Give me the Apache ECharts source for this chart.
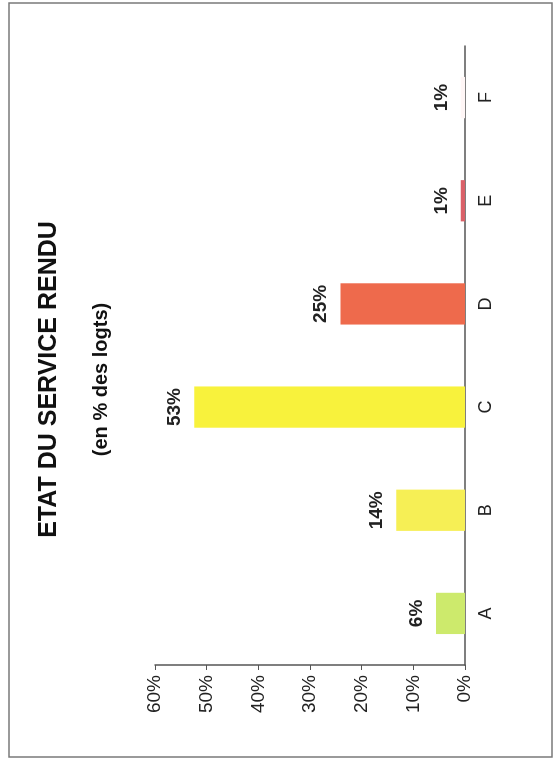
<!DOCTYPE html>
<html>
<head>
<meta charset="utf-8">
<script src="https://cdn.jsdelivr.net/npm/echarts@6/dist/echarts.min.js"></script>
<style>
  html, body { margin: 0; padding: 0; background: #fff; overflow: hidden; }
  /* the chart is drawn landscape then turned a quarter left, like the scan */
  #wrap {
    position: absolute; left: 0; top: 0;
    width: 759px; height: 557px;
    transform-origin: 0 0;
    transform: translate(0, 759px) rotate(-90deg);
  }
</style>
</head>
<body>
<div id="wrap"></div>
<script>
const categories = ['A', 'B', 'C', 'D', 'E', 'F']
const values = [5.6, 13.3, 52.4, 24.1, 0.8, 0.8]
const valueLabels = ['6%', '14%', '53%', '25%', '1%', '1%']
const barColors = ['#cdea6c', '#f6ef55', '#f8f23c', '#ee6a4c', '#da6068', '#fff6f6']

let myChart = echarts.init(document.getElementById('wrap'))

const font = 'Liberation Sans, Arial, sans-serif'

let opt = {
  backgroundColor: '#fff',
  animation: false,
  // titre
  title: [{
    text: 'ETAT DU SERVICE RENDU',
    left: 'center',
    top: 37,
    padding: 0,
    textStyle: { fontFamily: font, fontSize: 25, fontWeight: 'bold', color: '#111' }
  }, {
    text: '(en % des logts)',
    left: 'center',
    top: 91,
    padding: 0,
    textStyle: { fontFamily: font, fontSize: 20, fontWeight: 'bold', color: '#111' }
  }],
  // cadre
  graphic: [{
    type: 'rect',
    shape: { x: 2, y: 9, width: 754, height: 543 },
    style: { fill: 'none', stroke: '#7a7a7a', lineWidth: 1.5 }
  }],
  grid: { left: 94, right: 46, top: 155, bottom: 92 },
  xAxis: {
    type: 'category',
    data: categories,
    axisLine: { lineStyle: { color: '#555', width: 1.5 } },
    axisTick: { length: 4, lineStyle: { color: '#555' } },
    axisLabel: { margin: 12, fontFamily: font, fontSize: 18, color: '#222' }
  },
  yAxis: {
    type: 'value',
    min: 0,
    max: 60,
    interval: 10,
    axisLine: { show: true, lineStyle: { color: '#555', width: 1.5 } },
    axisTick: { show: true, length: 5, lineStyle: { color: '#555' } },
    splitLine: { show: false },
    axisLabel: { margin: 10, fontFamily: font, fontSize: 19, color: '#222', formatter: '{value}%' }
  },
  series: [{
    type: 'bar',
    barWidth: '40%',
    data: values.map((v, i) => ({ value: v, itemStyle: { color: barColors[i] } })),
    label: {
      show: true,
      position: 'top',
      distance: 10,
      fontFamily: font,
      fontSize: 19,
      fontWeight: 'bold',
      color: '#222',
      formatter: p => valueLabels[p.dataIndex]
    }
  }]
}

myChart.setOption(opt)
</script>
</body>
</html>
